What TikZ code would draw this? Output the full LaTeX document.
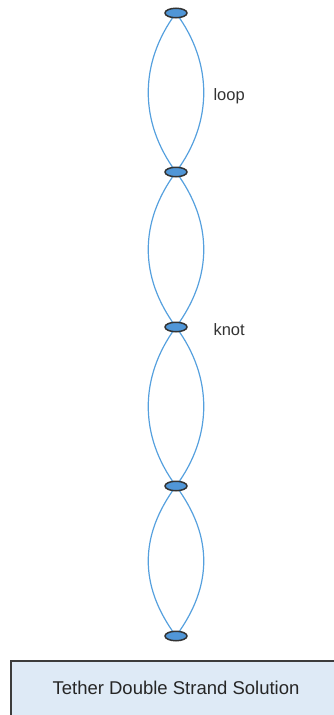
\documentclass[tikz,border=0pt]{standalone}
\usepackage{fontspec}
\setmainfont{Liberation Sans}
\usetikzlibrary{arrows.meta, positioning, shapes.geometric}
\definecolor{strandblue}{RGB}{85,160,222}
\definecolor{knotblue}{RGB}{80,150,215}
\definecolor{boxfill}{RGB}{222,234,246}
\definecolor{boxline}{RGB}{60,60,60}
\tikzset{
  knot/.style={ellipse, draw=black!80, line width=1.5pt, fill=knotblue,
    minimum width=22pt, minimum height=9.5pt, inner sep=0pt},
  strand/.style={strandblue, line width=1.2pt},
  tag/.style={anchor=west, font=\fontsize{16.5}{18}\selectfont, text=black!80}
}
\begin{document}
\begin{tikzpicture}[x=1pt, y=-1pt]
        \useasboundingbox (0,0) rectangle (333,715);
        % Caption box
        \fill[boxfill] (11,661) rectangle (340,720);
        \draw[boxline, line width=1.3pt] (340,661) -- (11,661) -- (11,720);
        \node[font=\fontsize{18.5}{20}\selectfont, text=black!85] (caption) at (176,688) {Tether Double Strand Solution};
        % Strands between knots
        \foreach \i/\y in {1/13, 2/172, 3/327, 4/486, 5/636}
          \coordinate (k\i) at (176,\y);
        \foreach \a/\b in {1/2, 2/3, 3/4, 4/5} {
          \draw[strand] (k\a) .. controls ([xshift=-37pt, yshift=-50pt]k\a) and ([xshift=-37pt, yshift=50pt]k\b) .. (k\b);
          \draw[strand] (k\a) .. controls ([xshift=37pt, yshift=-50pt]k\a) and ([xshift=37pt, yshift=50pt]k\b) .. (k\b);
        }
        % Knots
        \foreach \i in {1,...,5}
          \node[knot] (knot\i) at (k\i) {};
        % Labels
        \node[tag] (looplabel) at (210,96) {loop};
        \node[tag] (knotlabel) at (210,330) {knot};
      \end{tikzpicture}
\end{document}
